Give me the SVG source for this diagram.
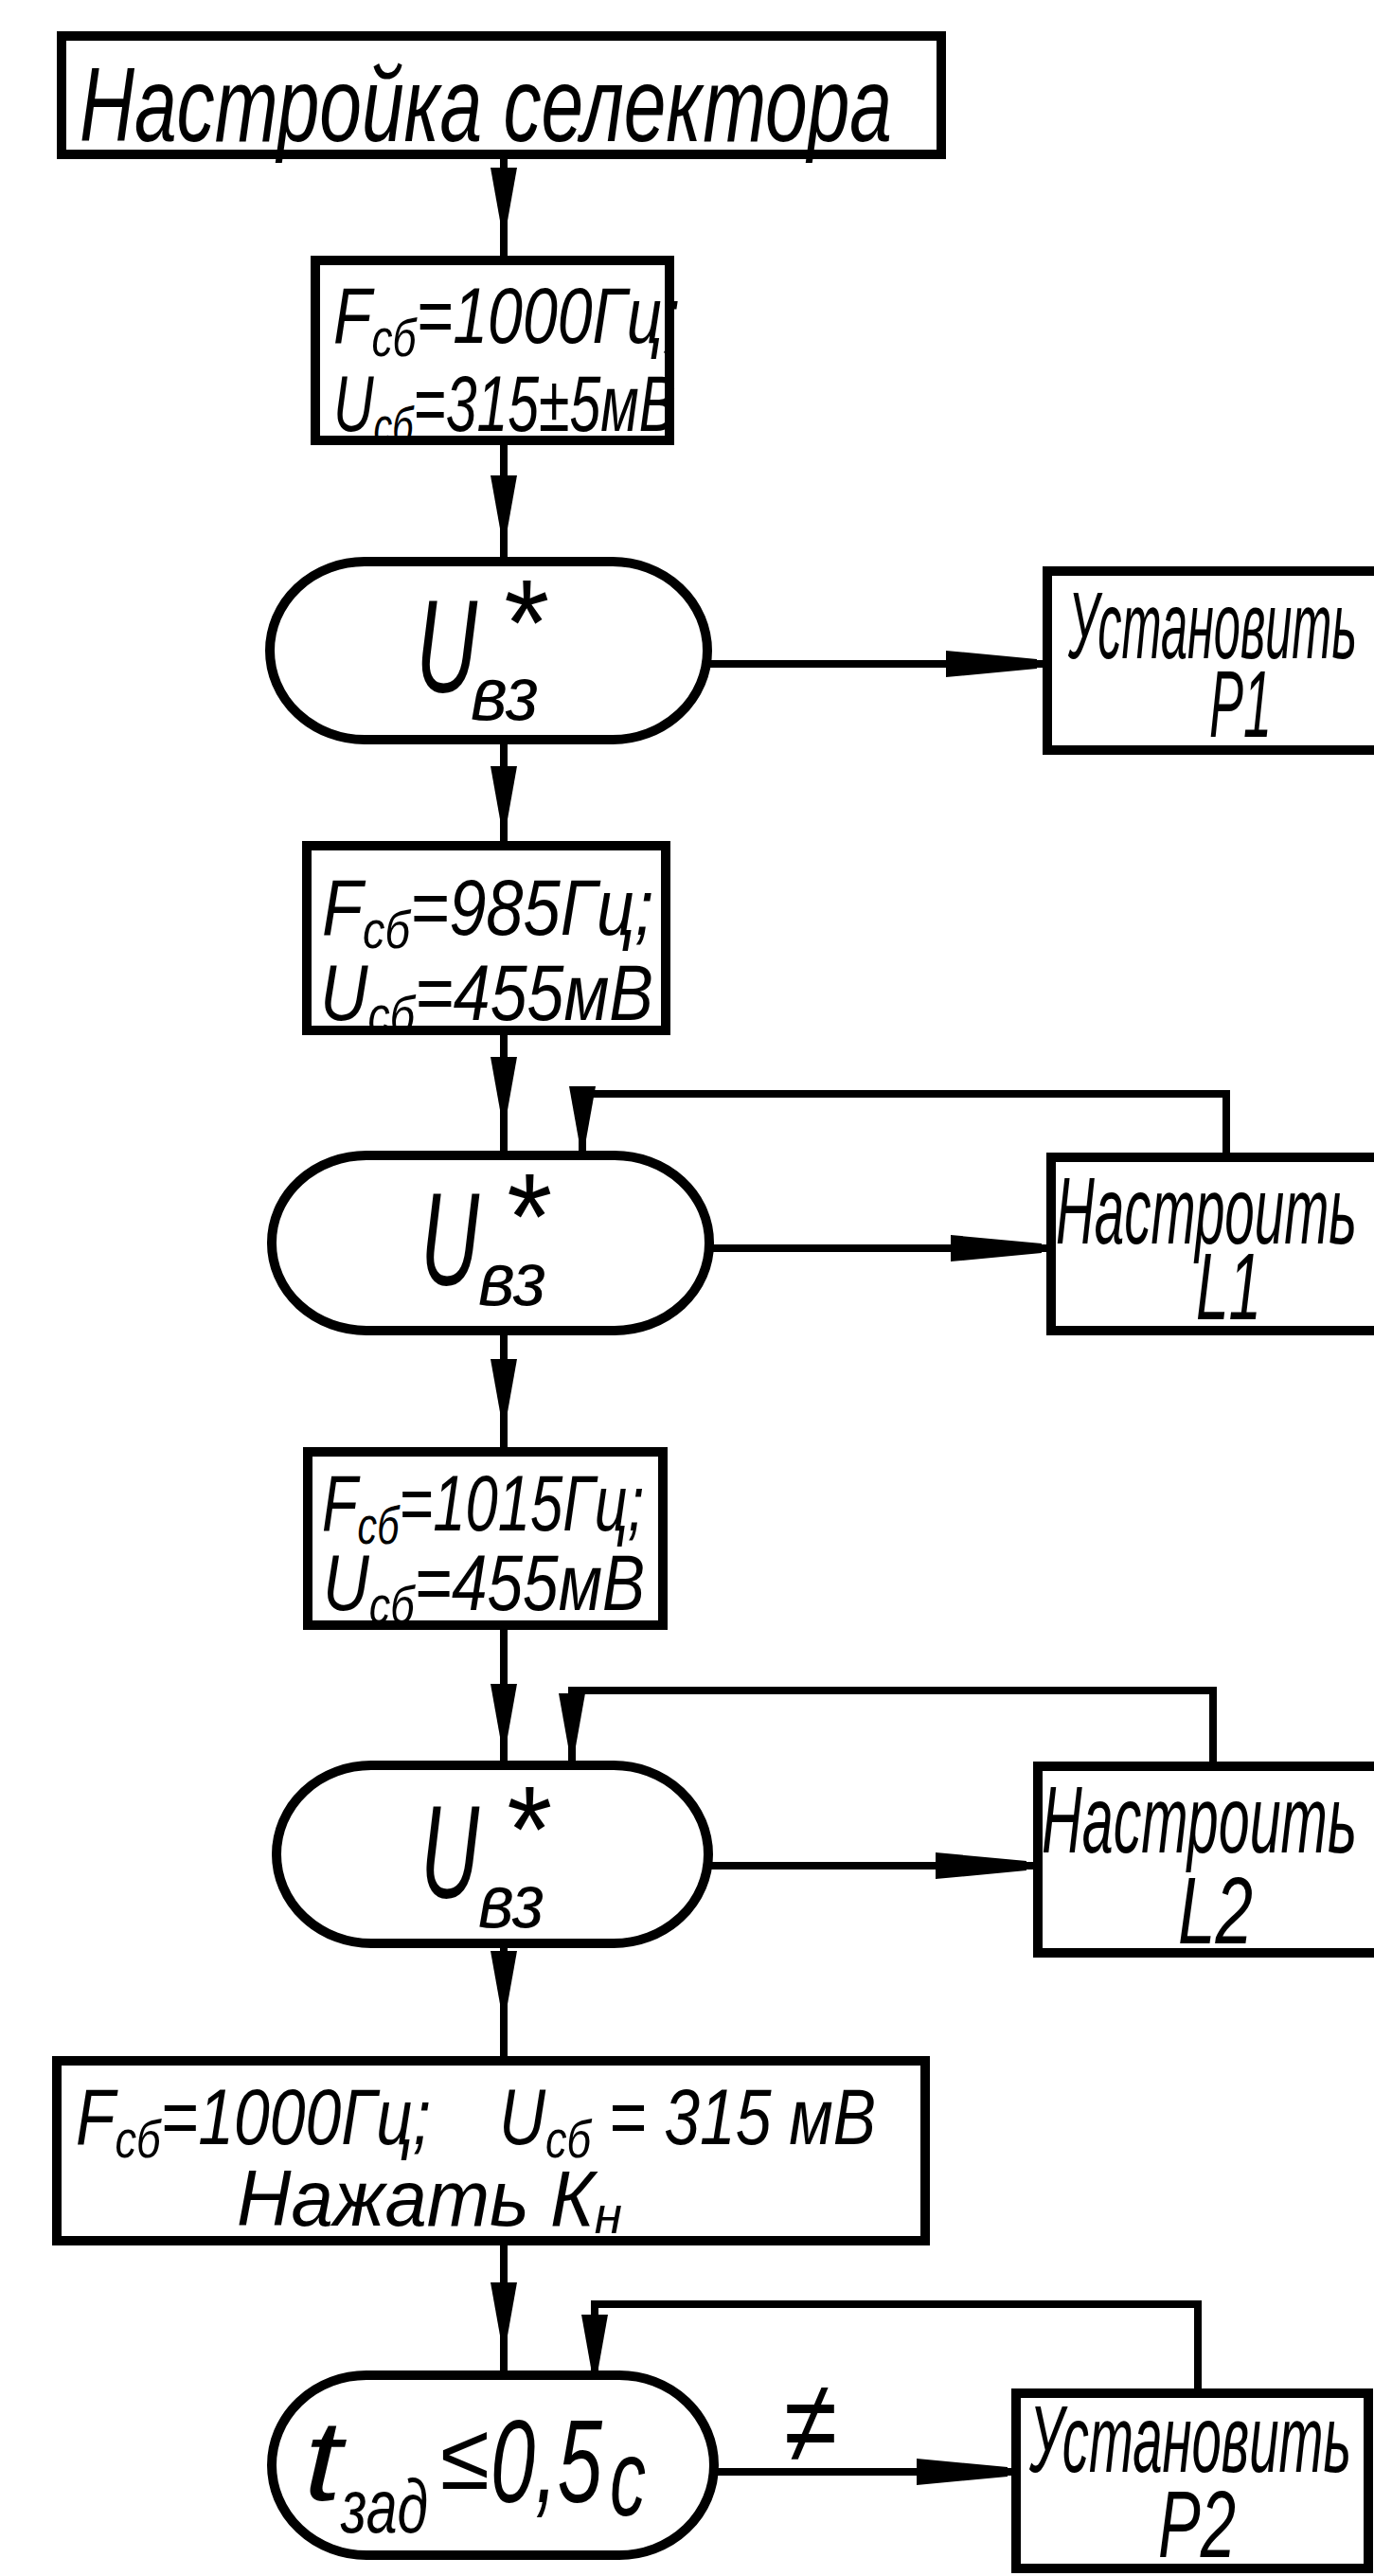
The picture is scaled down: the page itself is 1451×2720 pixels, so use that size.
<svg xmlns="http://www.w3.org/2000/svg" width="1451" height="2720" viewBox="0 0 1451 2720">
<style>
.box{fill:#fff;stroke:#000;stroke-width:10}
.dec{fill:#fff;stroke:#000;stroke-width:10}
.t{font-family:"Liberation Sans","DejaVu Sans",sans-serif;font-style:italic;fill:#000}
.c{fill:none;stroke:#000;stroke-width:8}
.a{fill:none;stroke:#000;stroke-width:8;marker-mid:url(#av)}
.ah{fill:none;stroke:#000;stroke-width:8;marker-mid:url(#ah)}
</style>
<defs>
<marker id="av" markerUnits="userSpaceOnUse" viewBox="0 0 56 28" markerWidth="56" markerHeight="28" refX="56" refY="14" orient="auto">
<path d="M0,0 L56,10 L56,18 L0,28 Z" fill="#000"/>
</marker>
<marker id="ah" markerUnits="userSpaceOnUse" viewBox="0 0 96 28" markerWidth="96" markerHeight="28" refX="96" refY="14" orient="auto">
<path d="M0,0 L96,9 L96,19 L0,28 Z" fill="#000"/>
</marker>
</defs>
<rect width="1451" height="2720" fill="#fff"/>
<g id="connectors">
<path class="a" d="M532,163 L532,233 L532,275"/>
<path class="a" d="M532,470 L532,558 L532,593"/>
<path class="a" d="M532,781 L532,865 L532,893"/>
<path class="a" d="M532,1088 L532,1172 L532,1220"/>
<path class="a" d="M532,1405 L532,1491 L532,1533"/>
<path class="a" d="M532,1716 L532,1834 L532,1864"/>
<path class="a" d="M532,2052 L532,2116 L532,2176"/>
<path class="a" d="M532,2366 L532,2466 L532,2508"/>
<path class="ah" d="M747,701 L1095,701 L1106,701"/>
<path class="ah" d="M749,1318 L1100,1318 L1110,1318"/>
<path class="ah" d="M748,1970 L1084,1970 L1096,1970"/>
<path class="ah" d="M754,2610 L1064,2610 L1073,2610"/>
<path class="c" d="M1295,1222 V1155 H615"/>
<path class="a" d="M615,1151 L615,1203 L615,1220"/>
<path class="c" d="M1281,1865 V1785 H604"/>
<path class="a" d="M604,1781 L604,1844 L604,1864"/>
<path class="c" d="M1265,2527 V2433 H628"/>
<path class="a" d="M628,2429 L628,2500 L628,2508"/>
<text class="t" x="828" y="2600" font-size="125" textLength="56" lengthAdjust="spacingAndGlyphs">≠</text>
</g>
<g id="n-start">
<rect class="box" x="65" y="38" width="929" height="125"/>
<text class="t" x="84" y="149" font-size="112" textLength="858" lengthAdjust="spacingAndGlyphs">Настройка селектора</text>
</g>
<g id="n-set1">
<rect class="box" x="333" y="275" width="374" height="190"/>
<text class="t" x="352" y="362" font-size="84" textLength="366" lengthAdjust="spacingAndGlyphs">F<tspan font-size="56" dy="14">сб</tspan><tspan dy="-14">=1000Гц;</tspan></text>
<text class="t" x="352" y="455" font-size="84" textLength="362" lengthAdjust="spacingAndGlyphs">U<tspan font-size="56" dy="14">сб</tspan><tspan dy="-14">=315±5мВ</tspan></text>
</g>
<g id="n-check1">
<rect class="dec" x="285" y="593" width="462" height="188" rx="100" ry="94"/>
<text class="t"><tspan x="439" y="731" font-size="140" textLength="65" lengthAdjust="spacingAndGlyphs">U</tspan><tspan x="527" y="703" font-size="130" textLength="48" lengthAdjust="spacingAndGlyphs">*</tspan><tspan x="497" y="760" font-size="80" textLength="72" lengthAdjust="spacingAndGlyphs">вз</tspan></text>
</g>
<g id="n-p1">
<rect class="box" x="1106" y="603" width="400" height="189"/>
<text class="t" x="1128" y="695" font-size="100" textLength="305" lengthAdjust="spacingAndGlyphs">Установить</text>
<text class="t" x="1277" y="778" font-size="100" textLength="66" lengthAdjust="spacingAndGlyphs">Р1</text>
</g>
<g id="n-set2">
<rect class="box" x="324" y="893" width="379" height="195"/>
<text class="t" x="340" y="987" font-size="84" textLength="350" lengthAdjust="spacingAndGlyphs">F<tspan font-size="56" dy="14">сб</tspan><tspan dy="-14">=985Гц;</tspan></text>
<text class="t" x="338" y="1077" font-size="84" textLength="352" lengthAdjust="spacingAndGlyphs">U<tspan font-size="56" dy="14">сб</tspan><tspan dy="-14">=455мВ</tspan></text>
</g>
<g id="n-check2">
<rect class="dec" x="287" y="1220" width="462" height="185" rx="100" ry="92"/>
<text class="t"><tspan x="444" y="1357" font-size="140" textLength="62" lengthAdjust="spacingAndGlyphs">U</tspan><tspan x="530" y="1330" font-size="130" textLength="48" lengthAdjust="spacingAndGlyphs">*</tspan><tspan x="505" y="1378" font-size="80" textLength="72" lengthAdjust="spacingAndGlyphs">вз</tspan></text>
</g>
<g id="n-l1">
<rect class="box" x="1110" y="1222" width="400" height="183"/>
<text class="t" x="1115" y="1313" font-size="100" textLength="318" lengthAdjust="spacingAndGlyphs">Настроить</text>
<text class="t" x="1263" y="1393" font-size="100" textLength="69" lengthAdjust="spacingAndGlyphs">L1</text>
</g>
<g id="n-set3">
<rect class="box" x="325" y="1533" width="375" height="183"/>
<text class="t" x="340" y="1616" font-size="84" textLength="340" lengthAdjust="spacingAndGlyphs">F<tspan font-size="56" dy="14">сб</tspan><tspan dy="-14">=1015Гц;</tspan></text>
<text class="t" x="341" y="1700" font-size="84" textLength="340" lengthAdjust="spacingAndGlyphs">U<tspan font-size="56" dy="14">сб</tspan><tspan dy="-14">=455мВ</tspan></text>
</g>
<g id="n-check3">
<rect class="dec" x="292" y="1864" width="456" height="188" rx="100" ry="94"/>
<text class="t"><tspan x="444" y="2004" font-size="140" textLength="62" lengthAdjust="spacingAndGlyphs">U</tspan><tspan x="530" y="1977" font-size="130" textLength="48" lengthAdjust="spacingAndGlyphs">*</tspan><tspan x="505" y="2035" font-size="80" textLength="70" lengthAdjust="spacingAndGlyphs">вз</tspan></text>
</g>
<g id="n-l2">
<rect class="box" x="1096" y="1865" width="400" height="197"/>
<text class="t" x="1100" y="1956" font-size="100" textLength="333" lengthAdjust="spacingAndGlyphs">Настроить</text>
<text class="t" x="1244" y="2052" font-size="100" textLength="79" lengthAdjust="spacingAndGlyphs">L2</text>
</g>
<g id="n-set4">
<rect class="box" x="60" y="2176" width="917" height="190"/>
<text class="t" x="80" y="2264" font-size="84" textLength="375" lengthAdjust="spacingAndGlyphs">F<tspan font-size="56" dy="14">сб</tspan><tspan dy="-14">=1000Гц;</tspan></text>
<text class="t" x="527" y="2264" font-size="84" textLength="398" lengthAdjust="spacingAndGlyphs">U<tspan font-size="56" dy="14">сб</tspan><tspan dy="-14"> = 315 мВ</tspan></text>
<text class="t" x="250" y="2350" font-size="84" textLength="407" lengthAdjust="spacingAndGlyphs">Нажать К<tspan font-size="56" dy="8">н</tspan></text>
</g>
<g id="n-check4">
<rect class="dec" x="287" y="2508" width="467" height="190" rx="100" ry="95"/>
<text class="t"><tspan x="321" y="2640" font-size="120" textLength="40" lengthAdjust="spacingAndGlyphs">t</tspan><tspan x="360" y="2674" font-size="80" textLength="92" lengthAdjust="spacingAndGlyphs">зад</tspan><tspan x="465" y="2628" font-size="100" textLength="52" lengthAdjust="spacingAndGlyphs">≤</tspan><tspan x="518" y="2642" font-size="124" textLength="118" lengthAdjust="spacingAndGlyphs">0,5</tspan><tspan x="644" y="2656" font-size="115" textLength="38" lengthAdjust="spacingAndGlyphs">с</tspan></text>
</g>
<g id="n-p2">
<rect class="box" x="1073" y="2527" width="372" height="185"/>
<text class="t" x="1087" y="2610" font-size="100" textLength="340" lengthAdjust="spacingAndGlyphs">Установить</text>
<text class="t" x="1223" y="2700" font-size="100" textLength="82" lengthAdjust="spacingAndGlyphs">Р2</text>
</g>
</svg>
